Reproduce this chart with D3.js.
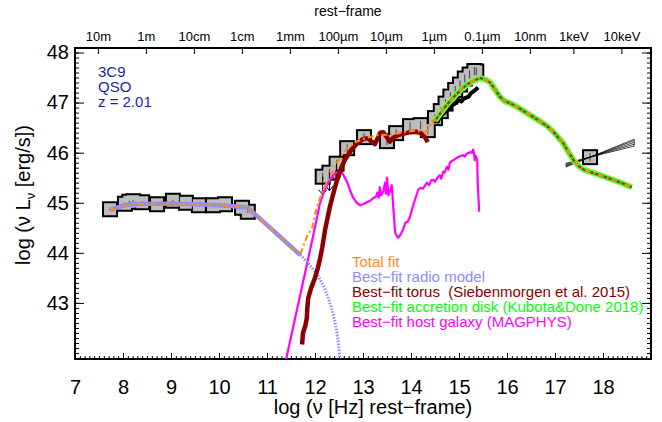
<!DOCTYPE html>
<html>
<head>
<meta charset="utf-8">
<script src="https://cdn.jsdelivr.net/npm/d3@7"></script>
<style>
body { margin:0; background:#fff; }
svg text { font-family: "Liberation Sans", Arial, Helvetica, sans-serif; }
</style>
</head>
<body>
<svg id="drawing_region"></svg>
<script>
// ---- data (log nu [Hz], log nuLnu [erg/s]) ----
const x_ticks = [7, 8, 9, 10, 11, 12, 13, 14, 15, 16, 17, 18];
const y_ticks = [43, 44, 45, 46, 47, 48];
const top_labels = ['10m', '1m', '10cm', '1cm', '1mm', '100\u00b5m', '10\u00b5m', '1\u00b5m', '0.1\u00b5m', '10nm', '1keV', '10keV'];
const top_nu = [7.477, 8.477, 9.477, 10.477, 11.477, 12.477, 13.477, 14.477, 15.477, 16.477, 17.383, 18.383];

const radio_obs_nu = [7.73, 8.04, 8.13, 8.21, 8.40, 8.71, 9.04, 9.31, 9.58, 9.875, 10.125, 10.48, 10.6];
const radio_obs_L  = [44.87, 44.98, 45.02, 45.03, 45.01, 44.97, 45.04, 45.0, 44.95, 44.95, 44.97, 44.9, 44.82];

const ir_obs_nu = [12.16, 12.3, 12.45, 12.67, 13.02, 13.5, 13.69, 13.98, 14.2, 14.35];
const ir_obs_L  = [45.52, 45.6, 45.78, 46.09, 46.31, 46.23, 46.39, 46.53, 46.55, 46.45];
const ir_limit  = [1, 1, 1, 0, 0, 0, 0, 0, 0, 0];

const uv_obs_nu = [14.5, 14.62, 14.72, 14.82, 14.92, 15.02, 15.12, 15.22, 15.32, 15.36];
const uv_obs_L  = [46.69, 46.83, 46.98, 47.12, 47.25, 47.36, 47.48, 47.56, 47.63, 47.62];

const xray_nu = [17.73];
const xray_L  = [45.91];
const bowtie_slopes = [0.24, 0.28, 0.32, 0.36, 0.39];
const bowtie_range = [17.23, 18.65];

const spec_nu = [14.47, 14.52, 14.56, 14.6, 14.65, 14.7, 14.75, 14.8, 14.85, 14.9, 14.95, 15.0, 15.05, 15.1, 15.15, 15.2, 15.25, 15.3, 15.35, 15.4];
const spec_L  = [46.6, 46.66, 46.62, 46.71, 46.76, 46.8, 46.86, 46.88, 46.95, 46.97, 47.01, 47.05, 47.02, 47.08, 47.1, 47.12, 47.19, 47.22, 47.26, 47.3];

const radio_nu = [7.73, 8.0, 8.2, 8.5, 9.0, 9.5, 10.0, 10.3, 10.6, 11.69];
const radio_L  = [44.86, 44.94, 44.97, 44.98, 44.98, 44.97, 44.95, 44.93, 44.9, 43.96];
const radio_cut_nu = [11.69, 11.85, 12.04, 12.17, 12.27, 12.36, 12.42, 12.48, 12.52];
const radio_cut_L  = [43.96, 43.8, 43.58, 43.35, 43.12, 42.85, 42.6, 42.26, 41.88];

const torus_nu = [11.73, 11.75, 11.8, 11.83, 11.84, 11.86, 11.92, 12.0, 12.06, 12.1, 12.15, 12.21, 12.31, 12.4, 12.46, 12.55, 12.63, 12.75, 12.88, 13.0, 13.1, 13.18, 13.25, 13.3, 13.36, 13.42, 13.49, 13.56, 13.63, 13.73, 13.85, 13.98, 14.1, 14.2, 14.29, 14.35];
const torus_L  = [42.17, 42.4, 42.55, 42.7, 42.9, 43.1, 43.3, 43.5, 43.7, 43.86, 44.1, 44.46, 44.92, 45.25, 45.45, 45.7, 45.87, 46.05, 46.19, 46.27, 46.29, 46.22, 46.17, 46.28, 46.4, 46.41, 46.32, 46.22, 46.3, 46.35, 46.38, 46.41, 46.42, 46.39, 46.31, 46.21];

const disk_nu = [14.5, 14.6, 14.75, 14.9, 15.05, 15.2, 15.35, 15.45, 15.55, 15.65, 15.75, 15.85, 15.95, 16.06, 16.2, 16.4, 16.55, 16.7, 16.85, 17.0, 17.17, 17.3, 17.4, 17.5, 17.6, 17.75, 17.94, 18.15, 18.35, 18.6];
const disk_L  = [46.64, 46.77, 46.96, 47.12, 47.27, 47.38, 47.46, 47.49, 47.46, 47.4, 47.26, 47.12, 47.03, 46.99, 46.92, 46.8, 46.71, 46.62, 46.52, 46.38, 46.19, 45.98, 45.83, 45.73, 45.66, 45.61, 45.55, 45.48, 45.41, 45.31];

const total_ir_nu = [11.75, 11.83, 11.94, 12.04, 12.17, 12.31, 12.46, 12.63, 12.83, 13.08, 13.3, 13.5, 13.7, 13.9, 14.1, 14.25, 14.33, 14.4, 14.46];
const total_ir_L  = [44.12, 44.32, 44.5, 44.92, 45.26, 45.51, 45.81, 46.05, 46.21, 46.3, 46.35, 46.36, 46.38, 46.42, 46.44, 46.42, 46.43, 46.55, 46.64];

const host_nu = [11.4, 11.98, 12.1, 12.2, 12.3, 12.4, 12.5, 12.58, 12.67, 12.73, 12.79, 12.87, 12.94, 13.0, 13.08, 13.15, 13.21, 13.27, 13.3, 13.33, 13.35, 13.38, 13.42, 13.46, 13.48, 13.5, 13.53, 13.56, 13.6, 13.63, 13.67, 13.73, 13.78, 13.83, 13.88, 13.93, 13.98, 14.03, 14.08, 14.15, 14.2, 14.25, 14.33, 14.38, 14.42, 14.46, 14.5, 14.55, 14.6, 14.63, 14.67, 14.7, 14.75, 14.78, 14.81, 14.86, 14.9, 14.96, 15.02, 15.08, 15.12, 15.16, 15.23, 15.27, 15.29, 15.31, 15.33, 15.35, 15.38, 15.39, 15.42];
const host_L  = [41.88, 44.42, 44.98, 45.25, 45.45, 45.57, 45.63, 45.58, 45.41, 45.25, 45.11, 45.0, 44.95, 44.97, 45.01, 45.04, 45.09, 45.12, 45.2, 45.1, 45.31, 45.15, 45.22, 45.4, 45.18, 45.5, 45.15, 45.22, 45.35, 44.92, 44.4, 44.3, 44.36, 44.45, 44.6, 44.62, 44.72, 44.9, 45.05, 45.26, 45.3, 45.28, 45.4, 45.35, 45.45, 45.46, 45.42, 45.5, 45.55, 45.48, 45.62, 45.6, 45.72, 45.66, 45.8, 45.84, 45.86, 45.9, 45.93, 45.95, 45.92, 45.98, 46.01, 46.0, 46.06, 46.0, 45.85, 45.93, 45.86, 45.4, 44.82];

const legend_items = [
    ['Total fit', '#ff8c1a'],
    ['Best\u2212fit radio model', '#8c8cff'],
    ['Best\u2212fit torus  (Siebenmorgen et al. 2015)', '#8b0000'],
    ['Best\u2212fit accretion disk (Kubota&Done 2018)', '#00ff00'],
    ['Best\u2212fit host galaxy (MAGPHYS)', '#ff00ff']
];
const source_info = ['3C9', 'QSO', 'z = 2.01'];

// ---- chart ----
const config = {
    width: 662,
    height: 422,
    left: 75, right: 651, top: 48, bottom: 359
};

const svg = d3.select('#drawing_region')
    .attr('width', config.width)
    .attr('height', config.height);

const xscale = d3.scaleLinear().domain([7, 19]).range([config.left, config.right]);
const yscale = d3.scaleLinear().domain([41.88, 48.09]).range([config.bottom, config.top]);

svg.append('clipPath').attr('id', 'plot_clip')
    .append('rect')
    .attr('x', config.left).attr('y', config.top)
    .attr('width', config.right - config.left)
    .attr('height', config.bottom - config.top);

const pts = (xs, ys) => xs.map((x, i) => [x, ys[i]]);
const line = d3.line().x(d => xscale(d[0])).y(d => yscale(d[1]));

// axes
const minor_x = d3.range(7, 19.001, 0.1).map(v => +v.toFixed(1));
const minor_y = d3.range(42, 48.09, 0.1).map(v => +v.toFixed(1));

const axis_font = 20;

function styleAxis(g) {
    g.select('.domain').remove();
    g.selectAll('.tick line').attr('stroke', '#000').attr('stroke-width', 1);
    g.selectAll('text').attr('fill', '#000');
}
function minorAxis(g) {
    styleAxis(g);
    g.selectAll('text').remove();
}

svg.append('g')
    .attr('transform', `translate(0, ${config.bottom})`)
    .call(d3.axisBottom(xscale).tickValues(minor_x).tickSizeInner(-3).tickSizeOuter(0))
    .call(minorAxis);
svg.append('g')
    .attr('transform', `translate(0, ${config.bottom})`)
    .call(d3.axisBottom(xscale).tickValues(x_ticks).tickSizeInner(-6).tickSizeOuter(0).tickPadding(21)
        .tickFormat(d3.format('d')))
    .call(styleAxis)
    .selectAll('text').attr('font-size', axis_font);

svg.append('g')
    .attr('transform', `translate(0, ${config.top})`)
    .call(d3.axisTop(xscale).tickValues(top_nu).tickSizeInner(-6).tickSizeOuter(0).tickPadding(7)
        .tickFormat((d, i) => top_labels[i]))
    .call(styleAxis)
    .selectAll('text').attr('font-size', 13);

svg.append('g')
    .attr('transform', `translate(${config.left}, 0)`)
    .call(d3.axisLeft(yscale).tickValues(minor_y).tickSizeInner(-4).tickSizeOuter(0))
    .call(minorAxis);
svg.append('g')
    .attr('transform', `translate(${config.left}, 0)`)
    .call(d3.axisLeft(yscale).tickValues(y_ticks).tickSizeInner(-9).tickSizeOuter(0).tickPadding(6)
        .tickFormat(d3.format('d')))
    .call(styleAxis)
    .selectAll('text').attr('font-size', axis_font);

svg.append('g')
    .attr('transform', `translate(${config.right}, 0)`)
    .call(d3.axisRight(yscale).tickValues(minor_y).tickSizeInner(-4).tickSizeOuter(0))
    .call(minorAxis);
svg.append('g')
    .attr('transform', `translate(${config.right}, 0)`)
    .call(d3.axisRight(yscale).tickValues(y_ticks).tickSizeInner(-9).tickSizeOuter(0))
    .call(minorAxis);

svg.append('rect')
    .attr('x', config.left).attr('y', config.top)
    .attr('width', config.right - config.left)
    .attr('height', config.bottom - config.top)
    .attr('fill', 'none').attr('stroke', '#000').attr('stroke-width', 2);

// titles
svg.append('text')
    .attr('x', 348).attr('y', 16)
    .attr('text-anchor', 'middle').attr('font-size', 14)
    .text('rest\u2212frame');

svg.append('text')
    .attr('x', 373).attr('y', 414)
    .attr('text-anchor', 'middle').attr('font-size', axis_font)
    .text('log (\u03bd [Hz] rest\u2212frame)');

const ylab = svg.append('text')
    .attr('transform', 'translate(30, 195) rotate(-90)')
    .attr('text-anchor', 'middle').attr('font-size', axis_font);
ylab.append('tspan').text('log (\u03bd L');
ylab.append('tspan').attr('font-size', 13).attr('dy', 5).text('\u03bd');
ylab.append('tspan').attr('dy', -5).text('  [erg/s])');

// plot contents
const plot = svg.append('g').attr('clip-path', 'url(#plot_clip)');

// observed points: black outlines first, grey fills on top (merged outline)
const obs = pts(radio_obs_nu, radio_obs_L)
    .concat(pts(ir_obs_nu, ir_obs_L))
    .concat(pts(uv_obs_nu, uv_obs_L))
    .concat(pts(xray_nu, xray_L));

const sq = 12;
plot.append('g').selectAll('rect').data(obs).join('rect')
    .attr('x', d => xscale(d[0]) - sq / 2 - 2).attr('y', d => yscale(d[1]) - sq / 2 - 2)
    .attr('width', sq + 4).attr('height', sq + 4).attr('fill', '#000');
plot.append('g').selectAll('rect').data(obs).join('rect')
    .attr('x', d => xscale(d[0]) - sq / 2).attr('y', d => yscale(d[1]) - sq / 2)
    .attr('width', sq).attr('height', sq).attr('fill', '#bdbdbd');

// error marks inside the squares
plot.append('g').selectAll('line').data(obs).join('line')
    .attr('x1', d => xscale(d[0])).attr('x2', d => xscale(d[0]))
    .attr('y1', d => yscale(d[1]) - (d[0] > 12 ? 4 : 1)).attr('y2', d => yscale(d[1]) + (d[0] > 12 ? 4 : 1))
    .attr('stroke', '#444').attr('stroke-width', 1);

// upper limits
const limits = pts(ir_obs_nu, ir_obs_L).filter((d, i) => ir_limit[i]);
const lim = plot.append('g').attr('stroke', '#000').attr('stroke-width', 1).attr('fill', 'none');
lim.selectAll('line').data(limits).join('line')
    .attr('x1', d => xscale(d[0])).attr('x2', d => xscale(d[0]))
    .attr('y1', d => yscale(d[1])).attr('y2', d => yscale(d[1]) + 18);
lim.selectAll('path').data(limits).join('path')
    .attr('d', d => {
        const x = xscale(d[0]), y = yscale(d[1]) + 18;
        return `M${x - 4},${y - 5}L${x},${y}L${x + 4},${y - 5}`;
    });

// x-ray bowtie
const bow = plot.append('g').attr('stroke', '#000').attr('stroke-width', 0.7).attr('fill', 'none');
bow.selectAll('line.b').data(bowtie_slopes).join('line').attr('class', 'b')
    .attr('x1', xscale(bowtie_range[0]))
    .attr('y1', s => yscale(xray_L[0] + s * (bowtie_range[0] - xray_nu[0])))
    .attr('x2', xscale(bowtie_range[1]))
    .attr('y2', s => yscale(xray_L[0] + s * (bowtie_range[1] - xray_nu[0])));
bowtie_range.forEach(r => {
    bow.append('line')
        .attr('x1', xscale(r)).attr('x2', xscale(r))
        .attr('y1', yscale(xray_L[0] + bowtie_slopes[0] * (r - xray_nu[0])))
        .attr('y2', yscale(xray_L[0] + bowtie_slopes[bowtie_slopes.length - 1] * (r - xray_nu[0])));
});

// host galaxy
plot.append('path').datum(pts(host_nu, host_L))
    .attr('d', line).attr('fill', 'none')
    .attr('stroke', '#ff00ff').attr('stroke-width', 2.2).attr('stroke-linejoin', 'round');

// radio model
plot.append('path').datum(pts(radio_cut_nu, radio_cut_L))
    .attr('d', line).attr('fill', 'none')
    .attr('stroke', '#8c8cff').attr('stroke-width', 3).attr('stroke-dasharray', '1.5,1.5');
plot.append('path').datum(pts(radio_nu, radio_L))
    .attr('d', line).attr('fill', 'none')
    .attr('stroke', '#8c8cff').attr('stroke-width', 4.5);

// torus
plot.append('path').datum(pts(torus_nu, torus_L))
    .attr('d', line).attr('fill', 'none')
    .attr('stroke', '#8b0000').attr('stroke-width', 4.5).attr('stroke-linejoin', 'round');

// optical spectrum
plot.append('path').datum(pts(spec_nu, spec_L))
    .attr('d', line).attr('fill', 'none')
    .attr('stroke', '#000').attr('stroke-width', 4).attr('stroke-linejoin', 'round');

// accretion disk
plot.append('path').datum(pts(disk_nu, disk_L))
    .attr('d', line).attr('fill', 'none')
    .attr('stroke', '#66ff33').attr('stroke-width', 6).attr('stroke-linejoin', 'round');
plot.append('path').datum(pts(disk_nu, disk_L))
    .attr('d', line).attr('fill', 'none')
    .attr('stroke', '#3a6b22').attr('stroke-width', 2.5);

// total fit
const total = pts(radio_nu, radio_L)
    .concat(pts(total_ir_nu, total_ir_L))
    .concat(pts(disk_nu, disk_L));
plot.append('path').datum(total)
    .attr('d', line).attr('fill', 'none')
    .attr('stroke', '#ff8c1a').attr('stroke-width', 2.2)
    .attr('stroke-dasharray', '6,3,2,3');

// source info
svg.append('g').selectAll('text').data(source_info).join('text')
    .attr('x', 98).attr('y', (d, i) => 77 + i * 15)
    .attr('font-size', 15).attr('fill', '#1f1f9c')
    .text(d => d);

// legend
svg.append('g').selectAll('text').data(legend_items).join('text')
    .attr('x', 352).attr('y', (d, i) => 267 + i * 15)
    .attr('font-size', 15).attr('fill', d => d[1])
    .style('white-space', 'pre')
    .text(d => d[0]);
</script>
</body>
</html>
